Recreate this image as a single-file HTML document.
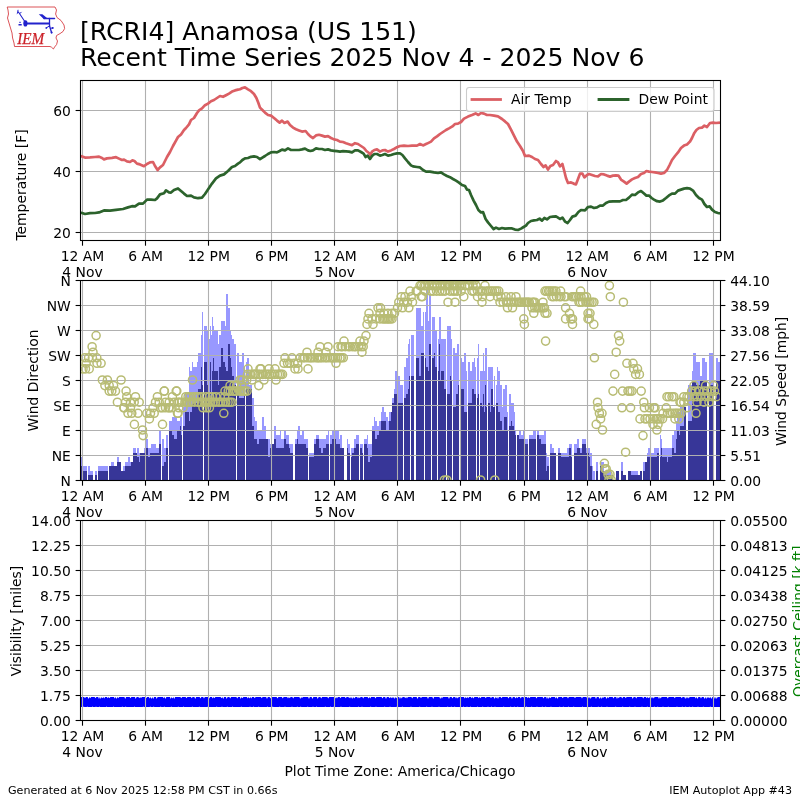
<!DOCTYPE html>
<html><head><meta charset="utf-8"><title>IEM Autoplot 43</title>
<style>html,body{margin:0;padding:0;background:#fff;}svg{display:block;}text{font-family:"DejaVu Sans", "Liberation Sans", sans-serif;fill:#000;}</style>
</head><body>
<svg width="800" height="800" viewBox="0 0 800 800">
<rect x="0" y="0" width="800" height="800" fill="#ffffff"/>
<g style="will-change:opacity">
<g id="logo">
<path d="M7.2,7 L55,7 L56.5,10 L55.6,14 L57,17.5 L61,20.5 L64,25 L64.6,28.5 L63,31.5 L60,33.6 L56.6,35.5 L56,38 L57.5,41 L56.6,44.5 L54.6,47 L53.4,49 L51.5,47.2 L50,46.5 L14.5,46.5 L14,43 L12.6,38 L12,33 L10.5,28 L9,23 L7.5,18 L8.5,14 L8,10 Z" fill="#ffffff" stroke="#d4343a" stroke-width="0.85" stroke-linejoin="round"/>
<g stroke="#2222cc" fill="none" stroke-linecap="round">
<path d="M26,23.5 H49" stroke-width="1.8"/>
<path d="M24.8,21.5 L18.6,12.2" stroke-width="1.1"/>
<path d="M18.6,12.2 L17.1,13.4 M17.6,12.6 L18,10.2 M19.8,13.6 L21.2,12.2" stroke-width="1.0"/>
<path d="M44,18.5 H54.6" stroke-width="1.3"/>
<path d="M49.5,18.5 V25.8 L51.6,32.8" stroke-width="1.3"/>
<path d="M46.4,27.8 L49.8,25.8 M50.4,28.4 L52.8,27.8" stroke-width="1.0"/>
</g>
<g fill="#2222cc" stroke="none">
<ellipse cx="25.4" cy="23.4" rx="2.1" ry="3.1"/>
<path d="M38.8,14.3 L42.4,14.3 L47,17.9 L44,19.2 Z"/>
<circle cx="46.3" cy="27.9" r="0.9"/><circle cx="52.7" cy="28" r="1"/><circle cx="51.6" cy="32.4" r="1"/>
<path d="M20,21.3 L20.9,23 L19.1,23 Z M18.5,24.1 L21.7,24.1 L21.7,25.5 L18.5,25.5 Z"/>
</g>
<text x="17.2" y="44.2" font-size="17.4" textLength="27" lengthAdjust="spacingAndGlyphs" stroke="#cc2229" stroke-width="0.25" style="font-family:'Liberation Serif','DejaVu Serif',serif;font-style:italic;fill:#cc2229">IEM</text>
</g>

<text x="80" y="40.3" font-size="25.13">[RCRI4] Anamosa (US 151)</text>
<text x="80" y="66.4" font-size="25.13">Recent Time Series 2025 Nov 4 - 2025 Nov 6</text>
<g stroke="#b0b0b0" stroke-width="1.1" fill="none"><line x1="82.50" y1="80.50" x2="82.50" y2="240.50"/><line x1="145.50" y1="80.50" x2="145.50" y2="240.50"/><line x1="208.50" y1="80.50" x2="208.50" y2="240.50"/><line x1="271.50" y1="80.50" x2="271.50" y2="240.50"/><line x1="334.50" y1="80.50" x2="334.50" y2="240.50"/><line x1="397.50" y1="80.50" x2="397.50" y2="240.50"/><line x1="460.50" y1="80.50" x2="460.50" y2="240.50"/><line x1="524.50" y1="80.50" x2="524.50" y2="240.50"/><line x1="587.50" y1="80.50" x2="587.50" y2="240.50"/><line x1="650.50" y1="80.50" x2="650.50" y2="240.50"/><line x1="713.50" y1="80.50" x2="713.50" y2="240.50"/><line x1="80.50" y1="110.50" x2="720.50" y2="110.50"/><line x1="80.50" y1="171.50" x2="720.50" y2="171.50"/><line x1="80.50" y1="232.50" x2="720.50" y2="232.50"/></g>
<defs><clipPath id="c1"><rect x="80.5" y="80.5" width="640" height="160"/></clipPath><clipPath id="c2"><rect x="80.5" y="280.5" width="640" height="200"/></clipPath><clipPath id="c3"><rect x="80.5" y="520.5" width="640" height="200"/></clipPath></defs><g clip-path="url(#c1)"><polyline points="80.0,156.0 82.0,156.4 85.0,157.6 90.0,157.4 95.0,157.0 99.0,156.6 102.0,158.0 104.0,159.4 107.0,158.4 112.0,157.8 116.0,157.2 119.0,158.6 122.0,160.0 124.0,159.6 127.0,161.4 130.0,162.0 132.4,160.4 134.4,161.0 137.0,163.6 140.0,164.4 144.0,166.2 147.0,164.0 150.0,162.4 153.0,162.0 155.0,166.0 157.6,170.0 160.0,167.4 163.0,165.0 165.0,161.0 167.0,157.0 170.0,152.0 173.0,146.0 176.0,140.6 178.0,137.0 181.0,134.4 184.0,130.0 186.0,128.0 189.0,124.4 191.0,120.0 194.0,118.0 197.0,113.0 199.0,110.4 202.0,108.4 205.0,105.2 208.0,103.6 211.0,101.2 214.0,100.0 217.0,98.0 220.0,96.0 223.0,96.8 226.0,95.2 229.0,93.6 232.0,91.6 235.0,90.4 238.0,89.6 240.0,89.2 242.4,88.0 245.0,87.4 248.0,89.4 251.0,91.2 254.0,94.0 256.4,98.0 258.4,103.0 260.0,107.6 262.4,110.0 265.0,112.6 268.0,115.0 271.0,115.6 274.0,118.0 277.0,120.6 279.6,122.6 282.0,120.6 284.4,123.0 287.6,121.6 290.0,125.0 293.0,127.6 296.0,129.2 299.0,130.4 302.0,131.6 305.6,131.0 308.0,134.0 310.4,136.4 313.0,138.0 316.0,135.4 319.0,134.8 322.0,135.6 325.0,136.6 328.0,136.2 331.0,138.0 334.0,139.4 337.0,140.0 340.0,141.6 343.0,142.0 346.0,143.2 349.0,144.2 352.0,145.2 355.0,143.2 358.0,144.0 361.0,146.0 364.0,148.0 366.4,151.0 369.0,153.0 370.4,155.0 372.0,151.6 374.4,150.0 377.0,149.4 380.0,151.6 382.4,150.4 385.0,150.0 388.0,151.6 391.0,150.4 394.0,149.0 397.0,147.2 400.0,146.0 404.0,145.6 408.0,146.0 412.0,145.6 417.0,145.6 420.0,144.0 423.0,145.4 427.0,143.6 431.0,141.6 434.0,138.4 437.0,136.4 440.0,134.0 443.0,132.0 446.0,130.0 449.0,128.4 452.4,126.4 455.0,124.0 458.0,123.6 461.0,122.0 464.0,118.6 468.0,116.6 472.0,115.0 475.6,113.4 478.4,115.0 481.0,113.0 484.0,113.6 487.0,115.0 490.0,115.0 494.0,115.6 498.0,116.4 502.0,119.0 505.0,121.4 508.0,124.0 511.0,129.6 514.0,135.6 517.0,141.6 520.0,146.0 523.0,151.0 525.0,156.0 529.0,155.6 532.0,157.0 535.0,159.0 538.0,160.0 541.0,164.0 543.6,167.0 545.6,165.4 548.0,169.6 550.4,166.0 553.0,165.0 556.0,161.0 558.0,162.4 560.0,166.4 562.4,164.0 564.0,170.0 566.0,178.0 568.0,183.0 571.0,182.4 573.6,183.6 576.0,184.4 578.4,178.0 580.0,173.6 582.4,173.6 584.4,177.4 587.0,175.0 589.0,174.0 592.0,175.0 595.0,176.0 598.0,176.4 601.0,174.0 604.0,174.4 607.0,175.6 610.0,176.6 613.0,175.6 616.0,175.4 618.4,175.6 621.0,179.6 624.0,181.6 626.6,183.6 629.0,181.6 632.0,179.4 635.0,178.0 638.0,177.0 641.0,174.0 644.0,173.0 646.4,171.0 649.0,171.6 652.0,172.0 655.0,172.4 658.0,173.0 661.0,173.6 664.0,173.0 667.0,170.0 669.6,165.0 672.0,160.0 675.0,156.0 678.0,152.4 681.0,148.0 684.0,145.6 687.0,144.4 690.0,141.6 692.0,138.0 694.0,133.6 696.4,130.0 699.0,128.0 702.0,127.6 704.4,125.6 707.0,127.0 710.0,123.0 713.0,122.6 716.0,123.0 720.0,122.6" fill="none" stroke="#db5f64" stroke-width="2.7" stroke-linejoin="round" stroke-linecap="butt"/><polyline points="80.0,212.6 82.0,213.0 85.0,214.0 90.0,213.2 95.0,213.0 99.0,212.4 104.0,210.4 110.0,210.6 116.0,209.8 123.0,209.0 128.0,207.4 132.0,206.2 135.0,206.4 139.0,203.6 143.0,203.6 147.0,199.6 151.0,199.6 155.0,200.0 157.0,198.4 160.0,194.4 164.0,193.2 166.0,190.4 169.0,192.4 171.0,192.6 174.0,190.0 178.0,188.4 181.0,191.0 184.0,193.6 187.0,196.0 191.0,195.6 194.0,197.4 198.0,198.2 202.0,197.6 205.0,194.0 208.0,189.6 212.0,183.6 216.0,178.4 220.0,175.6 224.0,174.4 228.0,171.0 232.0,167.0 235.0,166.0 238.0,163.6 240.0,162.4 242.4,160.0 245.0,158.4 248.0,158.0 251.0,156.8 254.0,156.4 257.0,157.0 260.0,159.2 262.4,157.6 265.0,156.0 268.0,154.0 271.0,152.4 274.0,152.0 277.0,152.4 279.6,151.0 282.0,149.6 285.0,150.4 288.0,148.4 291.0,150.0 295.0,150.0 299.0,150.0 302.0,149.4 305.0,148.6 308.0,150.4 310.4,151.0 313.0,150.4 316.0,148.4 319.0,149.0 322.0,149.0 325.0,150.0 328.0,149.4 331.0,150.4 334.0,150.8 337.0,151.2 340.0,151.6 343.0,151.2 346.0,151.4 349.0,151.6 352.0,152.4 355.0,150.4 358.0,150.4 361.0,152.0 363.6,153.6 365.6,157.0 367.6,155.6 370.0,159.0 372.0,156.0 374.4,154.0 377.0,154.0 380.0,155.6 382.4,155.0 385.0,154.0 388.0,155.6 391.0,155.0 394.0,154.0 397.0,153.4 400.0,153.4 402.4,155.0 405.0,158.4 408.0,162.0 411.0,165.4 413.0,166.4 417.0,167.0 420.0,167.4 423.0,170.0 426.0,171.6 430.0,171.6 434.0,172.4 438.0,173.0 441.0,172.4 444.0,174.4 447.0,176.0 450.0,177.2 453.0,179.0 456.0,180.6 459.0,182.6 462.0,185.0 465.0,186.0 467.0,189.6 469.0,190.0 471.0,195.0 473.6,200.6 476.0,205.0 478.4,210.0 481.0,212.4 483.0,212.0 485.6,219.0 488.0,222.4 491.0,226.0 493.6,229.0 496.0,227.6 499.0,229.0 502.0,228.0 505.0,228.6 509.0,228.4 512.0,228.4 515.0,229.6 518.0,230.0 521.0,228.6 523.6,227.0 526.0,225.6 528.0,223.0 531.0,221.0 534.0,220.4 537.0,220.0 539.6,218.6 542.0,220.6 544.4,218.0 547.0,219.4 550.0,217.0 553.0,216.6 556.0,216.4 558.0,217.6 560.0,219.0 562.4,217.6 565.0,221.6 567.6,223.0 570.0,220.0 572.4,216.6 575.6,215.6 578.4,212.0 581.0,210.0 585.0,210.4 588.0,207.0 591.0,206.6 594.0,208.0 597.0,207.4 600.0,205.6 603.0,205.6 606.0,203.0 609.0,201.6 613.0,201.4 617.0,201.4 620.0,201.4 623.0,200.0 626.0,200.0 629.0,197.6 632.0,194.6 635.0,195.0 638.0,192.4 641.0,191.0 644.0,193.6 646.4,195.6 649.0,195.6 651.6,198.0 654.0,199.6 657.0,201.2 660.0,201.6 663.0,200.4 666.0,198.0 669.0,195.4 672.0,193.6 675.0,193.6 678.0,190.6 681.0,189.6 684.0,188.6 687.0,188.2 690.0,188.6 693.0,190.6 696.0,195.0 699.0,198.0 702.0,199.6 704.4,204.0 707.0,207.0 709.6,206.4 712.0,209.6 715.0,212.0 718.0,213.0 720.0,213.4" fill="none" stroke="#2c632c" stroke-width="2.7" stroke-linejoin="round" stroke-linecap="butt"/></g>
<rect x="80.50" y="80.50" width="640.00" height="160.00" fill="none" stroke="#000" stroke-width="1.1"/>
<g stroke="#000" stroke-width="1.1"><line x1="82.50" y1="240.50" x2="82.50" y2="245.70"/><line x1="145.50" y1="240.50" x2="145.50" y2="245.70"/><line x1="208.50" y1="240.50" x2="208.50" y2="245.70"/><line x1="271.50" y1="240.50" x2="271.50" y2="245.70"/><line x1="334.50" y1="240.50" x2="334.50" y2="245.70"/><line x1="397.50" y1="240.50" x2="397.50" y2="245.70"/><line x1="460.50" y1="240.50" x2="460.50" y2="245.70"/><line x1="524.50" y1="240.50" x2="524.50" y2="245.70"/><line x1="587.50" y1="240.50" x2="587.50" y2="245.70"/><line x1="650.50" y1="240.50" x2="650.50" y2="245.70"/><line x1="713.50" y1="240.50" x2="713.50" y2="245.70"/></g><g font-size="13.89" text-anchor="middle"><text x="82.50" y="260.70">12 AM</text><text x="82.50" y="277.10">4 Nov</text><text x="145.60" y="260.70">6 AM</text><text x="208.70" y="260.70">12 PM</text><text x="271.80" y="260.70">6 PM</text><text x="334.90" y="260.70">12 AM</text><text x="334.90" y="277.10">5 Nov</text><text x="398.00" y="260.70">6 AM</text><text x="461.10" y="260.70">12 PM</text><text x="524.20" y="260.70">6 PM</text><text x="587.30" y="260.70">12 AM</text><text x="587.30" y="277.10">6 Nov</text><text x="650.40" y="260.70">6 AM</text><text x="713.50" y="260.70">12 PM</text></g>
<g stroke="#000" stroke-width="1.1"><line x1="75.60" y1="110.50" x2="80.50" y2="110.50"/><line x1="75.60" y1="171.50" x2="80.50" y2="171.50"/><line x1="75.60" y1="232.50" x2="80.50" y2="232.50"/></g><g font-size="13.89" text-anchor="end"><text x="70.80" y="115.80">60</text><text x="70.80" y="176.80">40</text><text x="70.80" y="237.80">20</text></g>
<text font-size="13.89" text-anchor="middle" fill="#000" transform="translate(25.60,185.00) rotate(-90)" style="fill:#000">Temperature [F]</text>
<rect x="466.5" y="87.5" width="247.5" height="24" rx="2.8" ry="2.8" fill="#ffffff" fill-opacity="0.8" stroke="#cccccc" stroke-width="1.1"/><line x1="472" y1="99.5" x2="500.5" y2="99.5" stroke="#db5f64" stroke-width="2.8" stroke-linecap="square"/><text x="511" y="104.2" font-size="13.89">Air Temp</text><line x1="599" y1="99.5" x2="628" y2="99.5" stroke="#2c632c" stroke-width="2.8" stroke-linecap="square"/><text x="638.5" y="104.2" font-size="13.89">Dew Point</text>
<g clip-path="url(#c2)"><path d="M80,480.5V457H82V466H87V480.5ZM88,480.5V466H90V471H93V480.5ZM95,480.5V471H97V480.5ZM98,480.5V466H108V480.5ZM109,480.5V466H111V462H114V466H117V457H119V462H121V471H123V466H125V462H128V457H130V462H131V462H133V448H136V453H137V448H139V453H140V453H144V448H145V439H148V448H150V448H151V444H156V448H158V448H159V430H161V480.5ZM162,480.5V439H164V448H166V435H168V480.5ZM169,480.5V421H172V417H174V417H177V421H180V417H181V417H183V407H185V394H189V367H190V371H192V362H193V367H197V362H198V353H201V335H202V312H203V330H204V326H207V330H208V339H210V326H211V335H212V317H213V326H214V330H218V344H219V335H221V321H223V321H225V326H226V294H228V308H230V330H231V335H232V339H234V344H236V480.5ZM237,480.5V353H239V362H240V362H242V353H244V367H245V480.5ZM246,480.5V362H247V358H249V385H252V398H254V417H255V421H257V430H259V430H262V417H264V426H266V439H268V439H270V444H272V444H274V426H276V435H280V430H281V439H284V430H286V435H289V444H290V444H293V480.5ZM295,480.5V439H297V430H298V426H300V435H302V430H304V439H306V439H308V480.5ZM309,480.5V453H314V439H316V435H319V439H321V439H323V439H326V435H328V430H329V480.5ZM330,480.5V435H332V430H334V430H336V430H339V439H340V435H342V448H344V439H345V480.5ZM347,480.5V439H348V444H350V480.5ZM351,480.5V448H352V448H354V439H356V435H359V480.5ZM360,480.5V444H362V444H363V439H367V435H368V444H370V444H372V426H374V417H375V421H377V426H379V421H380V421H381V412H382V407H384V412H386V417H388V421H389V412H391V412H392V398H394V389H395V371H397V376H398V376H400V385H403V480.5ZM404,480.5V367H406V358H408V344H409V339H410V480.5ZM411,480.5V335H414V480.5ZM416,480.5V308H419V308H421V326H423V312H424V480.5ZM425,480.5V312H426V290H428V321H429V294H431V480.5ZM432,480.5V317H434V317H435V330H437V339H439V317H440V317H441V339H444V339H446V480.5ZM447,480.5V326H450V326H451V339H452V480.5ZM453,480.5V348H455V353H456V353H457V344H458V344H459V358H460V358H462V362H464V353H466V371H467V480.5ZM468,480.5V362H470V371H472V362H474V358H475V367H476V367H477V358H478V344H479V358H480V371H482V371H483V353H484V371H485V348H486V348H487V480.5ZM488,480.5V367H490V367H491V367H493V407H494V376H495V480.5ZM496,480.5V385H497V367H498V371H500V385H502V407H503V389H504V389H505V385H507V412H509V394H511V403H512V403H514V412H515V430H516V480.5ZM517,480.5V435H519V430H521V435H523V430H525V439H528V480.5ZM529,480.5V435H533V430H536V480.5ZM537,480.5V430H539V435H541V435H544V430H546V453H547V457H549V480.5ZM550,480.5V444H552V448H554V453H556V480.5ZM558,480.5V448H560V453H561V453H567V448H569V444H571V444H572V480.5ZM574,480.5V444H577V439H579V448H580V448H582V439H586V448H588V448H589V448H590V453H592V466H593V471H595V480.5ZM596,480.5V462H598V480.5ZM600,480.5V462H602V462H604V471H606V471H611V475H613V480.5ZM616,480.5V471H619V480.5ZM621,480.5V462H623V475H626V480.5ZM628,480.5V471H631V471H632V471H638V475H640V471H642V480.5ZM643,480.5V462H645V462H647V453H648V448H649V448H651V453H654V448H655V448H657V448H659V480.5ZM660,480.5V435H661V439H662V448H667V448H668V448H672V435H674V430H676V421H677V412H679V412H680V407H684V407H686V480.5ZM688,480.5V385H692V371H693V353H696V362H700V376H702V358H705V362H707V480.5ZM709,480.5V353H713V376H714V480.5ZM716,480.5V358H718V362H720V480.5Z" fill="#9898ff" stroke="none"/><path d="M80,480.5V466H82V471H87V480.5ZM88,480.5V475H90V475H93V480.5ZM95,480.5V475H97V480.5ZM98,480.5V471H108V480.5ZM109,480.5V466H111V466H114V466H117V462H119V462H121V471H123V471H125V466H128V466H130V466H131V462H133V453H136V453H137V457H139V462H140V453H144V453H145V448H148V457H150V453H151V453H156V453H158V453H159V444H161V480.5ZM162,480.5V466H164V462H166V448H168V480.5ZM169,480.5V430H172V435H174V439H177V430H180V426H181V435H183V426H185V412H189V421H190V412H192V403H193V403H197V394H198V389H201V367H202V385H203V385H204V362H207V385H208V398H210V362H211V398H212V371H213V358H214V371H218V385H219V367H221V348H223V362H225V367H226V371H228V344H230V358H231V367H232V376H234V385H236V480.5ZM237,480.5V394H239V398H240V398H242V398H244V394H245V480.5ZM246,480.5V389H247V389H249V389H252V426H254V439H255V439H257V444H259V439H262V439H264V439H266V439H268V457H270V448H272V444H274V439H276V448H280V448H281V448H284V439H286V444H289V448H290V453H293V480.5ZM295,480.5V444H297V439H298V444H300V444H302V444H304V444H306V448H308V480.5ZM309,480.5V457H314V444H316V439H319V448H321V453H323V448H326V444H328V444H329V480.5ZM330,480.5V444H332V439H334V439H336V444H339V444H340V448H342V448H344V480.5ZM347,480.5V448H348V453H350V480.5ZM351,480.5V457H352V453H354V448H356V444H359V480.5ZM360,480.5V448H362V453H363V444H367V448H368V462H370V457H372V430H374V430H375V439H377V435H379V430H380V430H381V421H382V421H384V421H386V430H388V430H389V421H391V412H392V403H394V394H395V394H397V403H398V403H400V403H403V480.5ZM404,480.5V398H406V394H408V389H409V376H410V480.5ZM411,480.5V376H414V480.5ZM416,480.5V358H419V376H421V353H423V353H424V480.5ZM425,480.5V358H426V367H428V371H429V344H431V480.5ZM432,480.5V358H434V353H435V367H437V371H439V344H440V380H441V371H444V389H446V480.5ZM447,480.5V394H450V376H451V380H452V480.5ZM453,480.5V407H455V407H456V394H457V394H458V385H459V385H460V389H462V389H464V412H466V412H467V480.5ZM468,480.5V403H470V403H472V389H474V394H475V394H476V398H477V398H478V394H479V394H480V403H482V407H483V394H484V412H485V385H486V407H487V480.5ZM488,480.5V403H490V412H491V389H493V407H494V407H495V480.5ZM496,480.5V403H497V403H498V412H500V421H502V430H503V430H504V417H505V417H507V430H509V426H511V421H512V426H514V430H515V435H516V480.5ZM517,480.5V435H519V439H521V439H523V439H525V444H528V480.5ZM529,480.5V439H533V439H536V480.5ZM537,480.5V435H539V439H541V444H544V444H546V471H547V466H549V480.5ZM550,480.5V453H552V453H554V453H556V480.5ZM558,480.5V453H560V453H561V457H567V457H569V448H571V457H572V480.5ZM574,480.5V453H577V448H579V448H580V453H582V444H586V453H588V453H589V457H590V466H592V480.5ZM596,480.5V471H598V480.5ZM600,480.5V466H602V471H604V475H606V475H611V475H613V480.5ZM616,480.5V471H619V480.5ZM621,480.5V471H623V475H626V480.5ZM628,480.5V471H631V475H632V475H638V475H640V471H642V480.5ZM643,480.5V471H645V462H647V457H648V457H649V457H651V457H654V457H655V457H657V453H659V480.5ZM660,480.5V457H661V448H662V457H667V462H668V457H672V448H674V453H676V439H677V430H679V435H680V426H684V407H686V480.5ZM688,480.5V421H692V380H693V380H696V385H700V380H702V380H705V380H707V480.5ZM709,480.5V385H713V385H714V480.5ZM716,480.5V380H718V380H720V480.5Z" fill="#373698" stroke="none"/><rect x="182" y="280.5" width="1" height="200" fill="#ffffff"/><rect x="203" y="280.5" width="1" height="200" fill="#ffffff"/><rect x="344" y="280.5" width="1" height="200" fill="#ffffff"/><rect x="363" y="280.5" width="1" height="200" fill="#ffffff"/><rect x="437" y="280.5" width="1" height="200" fill="#ffffff"/><rect x="459" y="280.5" width="1" height="200" fill="#ffffff"/><rect x="476" y="280.5" width="1" height="200" fill="#ffffff"/><rect x="479" y="280.5" width="1" height="200" fill="#ffffff"/><rect x="508" y="280.5" width="1" height="200" fill="#ffffff"/></g>
<g stroke="#b0b0b0" stroke-width="1.1" fill="none"><line x1="82.50" y1="280.50" x2="82.50" y2="480.50"/><line x1="145.50" y1="280.50" x2="145.50" y2="480.50"/><line x1="208.50" y1="280.50" x2="208.50" y2="480.50"/><line x1="271.50" y1="280.50" x2="271.50" y2="480.50"/><line x1="334.50" y1="280.50" x2="334.50" y2="480.50"/><line x1="397.50" y1="280.50" x2="397.50" y2="480.50"/><line x1="460.50" y1="280.50" x2="460.50" y2="480.50"/><line x1="524.50" y1="280.50" x2="524.50" y2="480.50"/><line x1="587.50" y1="280.50" x2="587.50" y2="480.50"/><line x1="650.50" y1="280.50" x2="650.50" y2="480.50"/><line x1="713.50" y1="280.50" x2="713.50" y2="480.50"/><line x1="80.50" y1="280.50" x2="720.50" y2="280.50"/><line x1="80.50" y1="305.50" x2="720.50" y2="305.50"/><line x1="80.50" y1="330.50" x2="720.50" y2="330.50"/><line x1="80.50" y1="355.50" x2="720.50" y2="355.50"/><line x1="80.50" y1="380.50" x2="720.50" y2="380.50"/><line x1="80.50" y1="405.50" x2="720.50" y2="405.50"/><line x1="80.50" y1="430.50" x2="720.50" y2="430.50"/><line x1="80.50" y1="455.50" x2="720.50" y2="455.50"/><line x1="80.50" y1="480.50" x2="720.50" y2="480.50"/></g>
<g clip-path="url(#c2)" fill="none" stroke="#b8bc74" stroke-width="1.5"><circle cx="96.1" cy="335.6" r="4.05"/><circle cx="92.1" cy="346.7" r="4.05"/><circle cx="93.0" cy="352.2" r="4.05"/><circle cx="84.9" cy="357.8" r="4.05"/><circle cx="88.6" cy="357.8" r="4.05"/><circle cx="92.4" cy="357.8" r="4.05"/><circle cx="96.8" cy="357.8" r="4.05"/><circle cx="86.1" cy="363.3" r="4.05"/><circle cx="97.0" cy="363.3" r="4.05"/><circle cx="101.1" cy="363.3" r="4.05"/><circle cx="83.0" cy="368.9" r="4.05"/><circle cx="85.5" cy="368.9" r="4.05"/><circle cx="89.2" cy="368.9" r="4.05"/><circle cx="102.4" cy="380.0" r="4.05"/><circle cx="107.4" cy="380.0" r="4.05"/><circle cx="121.1" cy="380.0" r="4.05"/><circle cx="104.9" cy="385.6" r="4.05"/><circle cx="109.2" cy="385.6" r="4.05"/><circle cx="113.6" cy="385.6" r="4.05"/><circle cx="109.2" cy="391.1" r="4.05"/><circle cx="111.8" cy="391.1" r="4.05"/><circle cx="115.5" cy="391.1" r="4.05"/><circle cx="126.1" cy="391.1" r="4.05"/><circle cx="126.8" cy="396.7" r="4.05"/><circle cx="135.5" cy="396.7" r="4.05"/><circle cx="157.4" cy="396.7" r="4.05"/><circle cx="164.2" cy="391.1" r="4.05"/><circle cx="176.8" cy="391.1" r="4.05"/><circle cx="172.4" cy="396.7" r="4.05"/><circle cx="117.4" cy="402.2" r="4.05"/><circle cx="125.5" cy="402.2" r="4.05"/><circle cx="130.5" cy="402.2" r="4.05"/><circle cx="134.2" cy="402.2" r="4.05"/><circle cx="139.2" cy="402.2" r="4.05"/><circle cx="155.5" cy="402.2" r="4.05"/><circle cx="159.2" cy="402.2" r="4.05"/><circle cx="165.5" cy="402.2" r="4.05"/><circle cx="169.2" cy="402.2" r="4.05"/><circle cx="174.2" cy="402.2" r="4.05"/><circle cx="124.2" cy="407.8" r="4.05"/><circle cx="130.5" cy="407.8" r="4.05"/><circle cx="153.0" cy="407.8" r="4.05"/><circle cx="160.5" cy="407.8" r="4.05"/><circle cx="165.5" cy="407.8" r="4.05"/><circle cx="169.2" cy="407.8" r="4.05"/><circle cx="128.0" cy="413.3" r="4.05"/><circle cx="131.8" cy="413.3" r="4.05"/><circle cx="138.0" cy="413.3" r="4.05"/><circle cx="146.8" cy="413.3" r="4.05"/><circle cx="150.5" cy="413.3" r="4.05"/><circle cx="154.2" cy="413.3" r="4.05"/><circle cx="178.0" cy="413.3" r="4.05"/><circle cx="134.4" cy="424.4" r="4.05"/><circle cx="162.5" cy="424.4" r="4.05"/><circle cx="142.5" cy="430.0" r="4.05"/><circle cx="143.1" cy="435.6" r="4.05"/><circle cx="149.4" cy="418.9" r="4.05"/><circle cx="123.8" cy="407.8" r="4.05"/><circle cx="164.4" cy="391.1" r="4.05"/><circle cx="176.2" cy="391.1" r="4.05"/><circle cx="162.5" cy="407.8" r="4.05"/><circle cx="168.8" cy="407.8" r="4.05"/><circle cx="172.0" cy="407.8" r="4.05"/><circle cx="178.8" cy="407.8" r="4.05"/><circle cx="183.0" cy="407.8" r="4.05"/><circle cx="177.5" cy="413.3" r="4.05"/><circle cx="223.8" cy="413.3" r="4.05"/><circle cx="192.5" cy="380.0" r="4.05"/><circle cx="203.0" cy="407.8" r="4.05"/><circle cx="206.5" cy="407.8" r="4.05"/><circle cx="209.4" cy="407.8" r="4.05"/><circle cx="178.0" cy="402.2" r="4.05"/><circle cx="179.4" cy="402.2" r="4.05"/><circle cx="181.6" cy="402.2" r="4.05"/><circle cx="184.9" cy="402.2" r="4.05"/><circle cx="186.7" cy="402.2" r="4.05"/><circle cx="188.9" cy="402.2" r="4.05"/><circle cx="191.1" cy="402.2" r="4.05"/><circle cx="194.4" cy="402.2" r="4.05"/><circle cx="197.7" cy="402.2" r="4.05"/><circle cx="199.1" cy="402.2" r="4.05"/><circle cx="201.3" cy="402.2" r="4.05"/><circle cx="204.1" cy="402.2" r="4.05"/><circle cx="206.3" cy="402.2" r="4.05"/><circle cx="209.0" cy="402.2" r="4.05"/><circle cx="210.4" cy="402.2" r="4.05"/><circle cx="213.2" cy="402.2" r="4.05"/><circle cx="215.4" cy="402.2" r="4.05"/><circle cx="218.2" cy="402.2" r="4.05"/><circle cx="220.3" cy="402.2" r="4.05"/><circle cx="223.1" cy="402.2" r="4.05"/><circle cx="225.8" cy="402.2" r="4.05"/><circle cx="228.1" cy="402.2" r="4.05"/><circle cx="230.2" cy="402.2" r="4.05"/><circle cx="232.0" cy="402.2" r="4.05"/><circle cx="185.8" cy="396.7" r="4.05"/><circle cx="188.1" cy="396.7" r="4.05"/><circle cx="190.3" cy="396.7" r="4.05"/><circle cx="193.8" cy="396.7" r="4.05"/><circle cx="196.7" cy="396.7" r="4.05"/><circle cx="198.9" cy="396.7" r="4.05"/><circle cx="201.7" cy="396.7" r="4.05"/><circle cx="206.1" cy="396.7" r="4.05"/><circle cx="209.6" cy="396.7" r="4.05"/><circle cx="212.4" cy="396.7" r="4.05"/><circle cx="215.9" cy="396.7" r="4.05"/><circle cx="220.3" cy="396.7" r="4.05"/><circle cx="224.7" cy="396.7" r="4.05"/><circle cx="225.0" cy="391.1" r="4.05"/><circle cx="228.2" cy="391.1" r="4.05"/><circle cx="230.3" cy="391.1" r="4.05"/><circle cx="232.9" cy="391.1" r="4.05"/><circle cx="234.6" cy="391.1" r="4.05"/><circle cx="236.3" cy="391.1" r="4.05"/><circle cx="239.6" cy="391.1" r="4.05"/><circle cx="241.2" cy="391.1" r="4.05"/><circle cx="243.3" cy="391.1" r="4.05"/><circle cx="245.0" cy="391.1" r="4.05"/><circle cx="247.1" cy="391.1" r="4.05"/><circle cx="230.0" cy="385.6" r="4.05"/><circle cx="234.0" cy="385.6" r="4.05"/><circle cx="236.6" cy="385.6" r="4.05"/><circle cx="241.6" cy="385.6" r="4.05"/><circle cx="240.0" cy="380.0" r="4.05"/><circle cx="242.3" cy="380.0" r="4.05"/><circle cx="246.7" cy="380.0" r="4.05"/><circle cx="247.5" cy="374.4" r="4.05"/><circle cx="250.3" cy="374.4" r="4.05"/><circle cx="253.2" cy="374.4" r="4.05"/><circle cx="254.4" cy="374.4" r="4.05"/><circle cx="255.7" cy="374.4" r="4.05"/><circle cx="258.1" cy="374.4" r="4.05"/><circle cx="259.9" cy="374.4" r="4.05"/><circle cx="262.8" cy="374.4" r="4.05"/><circle cx="265.6" cy="374.4" r="4.05"/><circle cx="267.6" cy="374.4" r="4.05"/><circle cx="269.4" cy="374.4" r="4.05"/><circle cx="271.8" cy="374.4" r="4.05"/><circle cx="274.7" cy="374.4" r="4.05"/><circle cx="277.5" cy="374.4" r="4.05"/><circle cx="279.4" cy="374.4" r="4.05"/><circle cx="280.9" cy="374.4" r="4.05"/><circle cx="282.5" cy="374.4" r="4.05"/><circle cx="252.0" cy="380.0" r="4.05"/><circle cx="264.0" cy="380.0" r="4.05"/><circle cx="276.0" cy="380.0" r="4.05"/><circle cx="248.0" cy="368.9" r="4.05"/><circle cx="260.0" cy="368.9" r="4.05"/><circle cx="261.0" cy="368.9" r="4.05"/><circle cx="269.0" cy="368.9" r="4.05"/><circle cx="275.0" cy="368.9" r="4.05"/><circle cx="258.8" cy="385.6" r="4.05"/><circle cx="284.0" cy="363.3" r="4.05"/><circle cx="287.5" cy="363.3" r="4.05"/><circle cx="289.8" cy="363.3" r="4.05"/><circle cx="294.1" cy="363.3" r="4.05"/><circle cx="297.6" cy="363.3" r="4.05"/><circle cx="285.0" cy="357.8" r="4.05"/><circle cx="292.0" cy="357.8" r="4.05"/><circle cx="295.0" cy="368.9" r="4.05"/><circle cx="298.0" cy="368.9" r="4.05"/><circle cx="308.0" cy="368.9" r="4.05"/><circle cx="300.0" cy="357.8" r="4.05"/><circle cx="303.0" cy="357.8" r="4.05"/><circle cx="304.6" cy="357.8" r="4.05"/><circle cx="307.6" cy="357.8" r="4.05"/><circle cx="310.1" cy="357.8" r="4.05"/><circle cx="311.4" cy="357.8" r="4.05"/><circle cx="313.9" cy="357.8" r="4.05"/><circle cx="316.9" cy="357.8" r="4.05"/><circle cx="318.2" cy="357.8" r="4.05"/><circle cx="320.2" cy="357.8" r="4.05"/><circle cx="322.2" cy="357.8" r="4.05"/><circle cx="325.2" cy="357.8" r="4.05"/><circle cx="327.2" cy="357.8" r="4.05"/><circle cx="330.2" cy="357.8" r="4.05"/><circle cx="332.2" cy="357.8" r="4.05"/><circle cx="333.5" cy="357.8" r="4.05"/><circle cx="335.5" cy="357.8" r="4.05"/><circle cx="337.5" cy="357.8" r="4.05"/><circle cx="340.0" cy="357.8" r="4.05"/><circle cx="341.3" cy="357.8" r="4.05"/><circle cx="343.3" cy="357.8" r="4.05"/><circle cx="307.0" cy="352.2" r="4.05"/><circle cx="318.0" cy="352.2" r="4.05"/><circle cx="326.0" cy="352.2" r="4.05"/><circle cx="320.0" cy="346.7" r="4.05"/><circle cx="328.0" cy="346.7" r="4.05"/><circle cx="336.0" cy="363.3" r="4.05"/><circle cx="338.0" cy="346.7" r="4.05"/><circle cx="341.0" cy="346.7" r="4.05"/><circle cx="342.3" cy="346.7" r="4.05"/><circle cx="345.3" cy="346.7" r="4.05"/><circle cx="348.3" cy="346.7" r="4.05"/><circle cx="349.9" cy="346.7" r="4.05"/><circle cx="352.4" cy="346.7" r="4.05"/><circle cx="354.4" cy="346.7" r="4.05"/><circle cx="355.7" cy="346.7" r="4.05"/><circle cx="358.7" cy="346.7" r="4.05"/><circle cx="361.2" cy="346.7" r="4.05"/><circle cx="363.2" cy="346.7" r="4.05"/><circle cx="344.0" cy="341.1" r="4.05"/><circle cx="360.0" cy="341.1" r="4.05"/><circle cx="364.0" cy="341.1" r="4.05"/><circle cx="362.0" cy="352.2" r="4.05"/><circle cx="366.0" cy="335.6" r="4.05"/><circle cx="367.0" cy="324.4" r="4.05"/><circle cx="373.0" cy="324.4" r="4.05"/><circle cx="368.0" cy="318.9" r="4.05"/><circle cx="372.0" cy="318.9" r="4.05"/><circle cx="376.0" cy="318.9" r="4.05"/><circle cx="369.0" cy="313.3" r="4.05"/><circle cx="380.0" cy="318.9" r="4.05"/><circle cx="382.8" cy="318.9" r="4.05"/><circle cx="384.2" cy="318.9" r="4.05"/><circle cx="385.9" cy="318.9" r="4.05"/><circle cx="387.4" cy="318.9" r="4.05"/><circle cx="388.8" cy="318.9" r="4.05"/><circle cx="390.2" cy="318.9" r="4.05"/><circle cx="392.0" cy="318.9" r="4.05"/><circle cx="380.0" cy="313.3" r="4.05"/><circle cx="384.0" cy="313.3" r="4.05"/><circle cx="388.0" cy="313.3" r="4.05"/><circle cx="392.0" cy="313.3" r="4.05"/><circle cx="394.5" cy="313.3" r="4.05"/><circle cx="378.0" cy="307.8" r="4.05"/><circle cx="380.5" cy="307.8" r="4.05"/><circle cx="398.8" cy="302.2" r="4.05"/><circle cx="403.8" cy="302.2" r="4.05"/><circle cx="407.5" cy="302.2" r="4.05"/><circle cx="412.5" cy="302.2" r="4.05"/><circle cx="401.2" cy="296.7" r="4.05"/><circle cx="405.0" cy="296.7" r="4.05"/><circle cx="411.2" cy="296.7" r="4.05"/><circle cx="421.2" cy="296.7" r="4.05"/><circle cx="422.5" cy="296.7" r="4.05"/><circle cx="397.5" cy="307.8" r="4.05"/><circle cx="402.5" cy="307.8" r="4.05"/><circle cx="408.8" cy="307.8" r="4.05"/><circle cx="410.0" cy="291.1" r="4.05"/><circle cx="416.2" cy="291.1" r="4.05"/><circle cx="417.5" cy="291.1" r="4.05"/><circle cx="425.0" cy="291.1" r="4.05"/><circle cx="420.0" cy="285.6" r="4.05"/><circle cx="421.6" cy="285.6" r="4.05"/><circle cx="424.0" cy="285.6" r="4.05"/><circle cx="425.5" cy="285.6" r="4.05"/><circle cx="429.1" cy="285.6" r="4.05"/><circle cx="432.1" cy="285.6" r="4.05"/><circle cx="434.5" cy="285.6" r="4.05"/><circle cx="436.9" cy="285.6" r="4.05"/><circle cx="440.5" cy="285.6" r="4.05"/><circle cx="442.9" cy="285.6" r="4.05"/><circle cx="445.3" cy="285.6" r="4.05"/><circle cx="447.7" cy="285.6" r="4.05"/><circle cx="449.3" cy="285.6" r="4.05"/><circle cx="452.9" cy="285.6" r="4.05"/><circle cx="454.4" cy="285.6" r="4.05"/><circle cx="456.0" cy="285.6" r="4.05"/><circle cx="459.6" cy="285.6" r="4.05"/><circle cx="461.5" cy="285.6" r="4.05"/><circle cx="465.1" cy="285.6" r="4.05"/><circle cx="467.5" cy="285.6" r="4.05"/><circle cx="469.4" cy="285.6" r="4.05"/><circle cx="473.0" cy="285.6" r="4.05"/><circle cx="476.0" cy="285.6" r="4.05"/><circle cx="485.0" cy="285.6" r="4.05"/><circle cx="430.7" cy="291.1" r="4.05"/><circle cx="433.3" cy="291.1" r="4.05"/><circle cx="436.6" cy="291.1" r="4.05"/><circle cx="439.8" cy="291.1" r="4.05"/><circle cx="442.4" cy="291.1" r="4.05"/><circle cx="445.0" cy="291.1" r="4.05"/><circle cx="450.0" cy="291.1" r="4.05"/><circle cx="453.0" cy="291.1" r="4.05"/><circle cx="454.9" cy="291.1" r="4.05"/><circle cx="457.4" cy="291.1" r="4.05"/><circle cx="461.1" cy="291.1" r="4.05"/><circle cx="472.0" cy="291.1" r="4.05"/><circle cx="473.9" cy="291.1" r="4.05"/><circle cx="477.5" cy="291.1" r="4.05"/><circle cx="481.1" cy="291.1" r="4.05"/><circle cx="482.7" cy="291.1" r="4.05"/><circle cx="486.3" cy="291.1" r="4.05"/><circle cx="488.2" cy="291.1" r="4.05"/><circle cx="490.6" cy="291.1" r="4.05"/><circle cx="492.5" cy="291.1" r="4.05"/><circle cx="494.9" cy="291.1" r="4.05"/><circle cx="496.8" cy="291.1" r="4.05"/><circle cx="498.8" cy="291.1" r="4.05"/><circle cx="426.0" cy="280.0" r="4.05"/><circle cx="431.0" cy="280.0" r="4.05"/><circle cx="435.0" cy="280.0" r="4.05"/><circle cx="438.2" cy="280.0" r="4.05"/><circle cx="443.2" cy="280.0" r="4.05"/><circle cx="449.5" cy="280.0" r="4.05"/><circle cx="452.8" cy="280.0" r="4.05"/><circle cx="456.0" cy="280.0" r="4.05"/><circle cx="459.2" cy="280.0" r="4.05"/><circle cx="462.5" cy="280.0" r="4.05"/><circle cx="468.8" cy="280.0" r="4.05"/><circle cx="475.0" cy="280.0" r="4.05"/><circle cx="463.8" cy="296.7" r="4.05"/><circle cx="477.5" cy="296.7" r="4.05"/><circle cx="482.5" cy="296.7" r="4.05"/><circle cx="490.0" cy="296.7" r="4.05"/><circle cx="497.5" cy="296.7" r="4.05"/><circle cx="448.0" cy="302.2" r="4.05"/><circle cx="455.0" cy="302.2" r="4.05"/><circle cx="482.0" cy="302.2" r="4.05"/><circle cx="444.4" cy="480.0" r="4.05"/><circle cx="446.9" cy="480.0" r="4.05"/><circle cx="480.6" cy="480.0" r="4.05"/><circle cx="494.8" cy="480.0" r="4.05"/><circle cx="500.0" cy="302.2" r="4.05"/><circle cx="503.2" cy="302.2" r="4.05"/><circle cx="506.5" cy="302.2" r="4.05"/><circle cx="508.2" cy="302.2" r="4.05"/><circle cx="511.4" cy="302.2" r="4.05"/><circle cx="514.0" cy="302.2" r="4.05"/><circle cx="516.6" cy="302.2" r="4.05"/><circle cx="518.7" cy="302.2" r="4.05"/><circle cx="501.0" cy="296.7" r="4.05"/><circle cx="506.0" cy="296.7" r="4.05"/><circle cx="511.0" cy="296.7" r="4.05"/><circle cx="516.0" cy="296.7" r="4.05"/><circle cx="507.5" cy="307.8" r="4.05"/><circle cx="512.5" cy="307.8" r="4.05"/><circle cx="520.0" cy="302.2" r="4.05"/><circle cx="521.9" cy="302.2" r="4.05"/><circle cx="523.8" cy="302.2" r="4.05"/><circle cx="525.3" cy="302.2" r="4.05"/><circle cx="526.8" cy="302.2" r="4.05"/><circle cx="528.1" cy="302.2" r="4.05"/><circle cx="529.3" cy="302.2" r="4.05"/><circle cx="532.2" cy="302.2" r="4.05"/><circle cx="533.7" cy="302.2" r="4.05"/><circle cx="534.9" cy="302.2" r="4.05"/><circle cx="532.0" cy="307.8" r="4.05"/><circle cx="534.8" cy="307.8" r="4.05"/><circle cx="537.0" cy="307.8" r="4.05"/><circle cx="538.7" cy="307.8" r="4.05"/><circle cx="540.9" cy="307.8" r="4.05"/><circle cx="543.1" cy="307.8" r="4.05"/><circle cx="544.5" cy="307.8" r="4.05"/><circle cx="533.8" cy="313.3" r="4.05"/><circle cx="545.0" cy="313.3" r="4.05"/><circle cx="547.0" cy="313.3" r="4.05"/><circle cx="543.0" cy="302.2" r="4.05"/><circle cx="545.6" cy="341.1" r="4.05"/><circle cx="523.8" cy="318.9" r="4.05"/><circle cx="524.4" cy="324.4" r="4.05"/><circle cx="545.0" cy="291.1" r="4.05"/><circle cx="546.6" cy="291.1" r="4.05"/><circle cx="548.6" cy="291.1" r="4.05"/><circle cx="549.9" cy="291.1" r="4.05"/><circle cx="551.9" cy="291.1" r="4.05"/><circle cx="553.9" cy="291.1" r="4.05"/><circle cx="555.9" cy="291.1" r="4.05"/><circle cx="560.6" cy="291.1" r="4.05"/><circle cx="580.6" cy="291.1" r="4.05"/><circle cx="552.0" cy="296.7" r="4.05"/><circle cx="553.8" cy="296.7" r="4.05"/><circle cx="556.5" cy="296.7" r="4.05"/><circle cx="559.3" cy="296.7" r="4.05"/><circle cx="561.0" cy="296.7" r="4.05"/><circle cx="564.3" cy="296.7" r="4.05"/><circle cx="566.1" cy="296.7" r="4.05"/><circle cx="565.6" cy="307.8" r="4.05"/><circle cx="569.5" cy="313.3" r="4.05"/><circle cx="565.6" cy="318.9" r="4.05"/><circle cx="571.0" cy="318.9" r="4.05"/><circle cx="572.5" cy="318.9" r="4.05"/><circle cx="572.5" cy="324.4" r="4.05"/><circle cx="572.0" cy="296.7" r="4.05"/><circle cx="573.8" cy="296.7" r="4.05"/><circle cx="575.2" cy="296.7" r="4.05"/><circle cx="576.6" cy="296.7" r="4.05"/><circle cx="578.8" cy="296.7" r="4.05"/><circle cx="581.0" cy="296.7" r="4.05"/><circle cx="584.3" cy="296.7" r="4.05"/><circle cx="586.5" cy="296.7" r="4.05"/><circle cx="579.0" cy="302.2" r="4.05"/><circle cx="580.4" cy="302.2" r="4.05"/><circle cx="582.6" cy="302.2" r="4.05"/><circle cx="585.9" cy="302.2" r="4.05"/><circle cx="588.1" cy="302.2" r="4.05"/><circle cx="589.9" cy="302.2" r="4.05"/><circle cx="592.1" cy="302.2" r="4.05"/><circle cx="593.9" cy="302.2" r="4.05"/><circle cx="588.0" cy="313.3" r="4.05"/><circle cx="590.0" cy="313.3" r="4.05"/><circle cx="588.0" cy="318.9" r="4.05"/><circle cx="589.4" cy="318.9" r="4.05"/><circle cx="593.8" cy="324.4" r="4.05"/><circle cx="594.4" cy="357.8" r="4.05"/><circle cx="609.4" cy="285.6" r="4.05"/><circle cx="610.3" cy="296.7" r="4.05"/><circle cx="618.5" cy="335.6" r="4.05"/><circle cx="619.7" cy="341.1" r="4.05"/><circle cx="616.2" cy="352.2" r="4.05"/><circle cx="614.7" cy="374.4" r="4.05"/><circle cx="623.4" cy="302.2" r="4.05"/><circle cx="626.9" cy="363.3" r="4.05"/><circle cx="633.0" cy="363.3" r="4.05"/><circle cx="633.8" cy="368.9" r="4.05"/><circle cx="637.5" cy="368.9" r="4.05"/><circle cx="635.6" cy="374.4" r="4.05"/><circle cx="639.4" cy="374.4" r="4.05"/><circle cx="613.0" cy="391.1" r="4.05"/><circle cx="622.5" cy="391.1" r="4.05"/><circle cx="628.0" cy="391.1" r="4.05"/><circle cx="630.0" cy="391.1" r="4.05"/><circle cx="632.0" cy="391.1" r="4.05"/><circle cx="641.2" cy="391.1" r="4.05"/><circle cx="667.0" cy="396.7" r="4.05"/><circle cx="669.0" cy="396.7" r="4.05"/><circle cx="672.0" cy="396.7" r="4.05"/><circle cx="673.8" cy="396.7" r="4.05"/><circle cx="597.5" cy="402.2" r="4.05"/><circle cx="643.8" cy="402.2" r="4.05"/><circle cx="680.0" cy="402.2" r="4.05"/><circle cx="598.0" cy="407.8" r="4.05"/><circle cx="622.0" cy="407.8" r="4.05"/><circle cx="630.6" cy="407.8" r="4.05"/><circle cx="644.4" cy="407.8" r="4.05"/><circle cx="649.4" cy="407.8" r="4.05"/><circle cx="653.8" cy="407.8" r="4.05"/><circle cx="655.0" cy="407.8" r="4.05"/><circle cx="666.2" cy="407.8" r="4.05"/><circle cx="599.4" cy="413.3" r="4.05"/><circle cx="602.0" cy="413.3" r="4.05"/><circle cx="663.0" cy="413.3" r="4.05"/><circle cx="667.5" cy="413.3" r="4.05"/><circle cx="670.0" cy="413.3" r="4.05"/><circle cx="672.5" cy="413.3" r="4.05"/><circle cx="675.0" cy="413.3" r="4.05"/><circle cx="678.8" cy="413.3" r="4.05"/><circle cx="600.6" cy="418.9" r="4.05"/><circle cx="640.0" cy="418.9" r="4.05"/><circle cx="645.0" cy="418.9" r="4.05"/><circle cx="647.0" cy="418.9" r="4.05"/><circle cx="650.0" cy="418.9" r="4.05"/><circle cx="653.8" cy="418.9" r="4.05"/><circle cx="656.2" cy="418.9" r="4.05"/><circle cx="658.0" cy="418.9" r="4.05"/><circle cx="660.0" cy="418.9" r="4.05"/><circle cx="662.5" cy="418.9" r="4.05"/><circle cx="675.0" cy="418.9" r="4.05"/><circle cx="678.8" cy="418.9" r="4.05"/><circle cx="596.2" cy="424.4" r="4.05"/><circle cx="653.0" cy="424.4" r="4.05"/><circle cx="658.0" cy="424.4" r="4.05"/><circle cx="602.5" cy="430.0" r="4.05"/><circle cx="656.9" cy="430.0" r="4.05"/><circle cx="643.0" cy="435.6" r="4.05"/><circle cx="625.6" cy="452.2" r="4.05"/><circle cx="604.4" cy="463.3" r="4.05"/><circle cx="605.0" cy="468.9" r="4.05"/><circle cx="606.2" cy="468.9" r="4.05"/><circle cx="608.0" cy="474.4" r="4.05"/><circle cx="610.0" cy="474.4" r="4.05"/><circle cx="609.0" cy="480.0" r="4.05"/><circle cx="611.2" cy="480.0" r="4.05"/><circle cx="681.0" cy="402.2" r="4.05"/><circle cx="683.8" cy="402.2" r="4.05"/><circle cx="697.0" cy="402.2" r="4.05"/><circle cx="704.0" cy="402.2" r="4.05"/><circle cx="709.0" cy="402.2" r="4.05"/><circle cx="683.8" cy="396.7" r="4.05"/><circle cx="687.0" cy="396.7" r="4.05"/><circle cx="676.8" cy="413.3" r="4.05"/><circle cx="681.0" cy="413.3" r="4.05"/><circle cx="696.0" cy="413.3" r="4.05"/><circle cx="687.0" cy="407.8" r="4.05"/><circle cx="689.0" cy="396.7" r="4.05"/><circle cx="694.2" cy="396.7" r="4.05"/><circle cx="697.0" cy="396.7" r="4.05"/><circle cx="700.5" cy="396.7" r="4.05"/><circle cx="705.8" cy="396.7" r="4.05"/><circle cx="708.6" cy="396.7" r="4.05"/><circle cx="712.1" cy="396.7" r="4.05"/><circle cx="716.5" cy="396.7" r="4.05"/><circle cx="691.7" cy="391.1" r="4.05"/><circle cx="695.2" cy="391.1" r="4.05"/><circle cx="698.7" cy="391.1" r="4.05"/><circle cx="704.0" cy="391.1" r="4.05"/><circle cx="707.5" cy="391.1" r="4.05"/><circle cx="711.0" cy="391.1" r="4.05"/><circle cx="714.5" cy="391.1" r="4.05"/><circle cx="694.0" cy="385.6" r="4.05"/><circle cx="705.6" cy="385.6" r="4.05"/><circle cx="713.5" cy="385.6" r="4.05"/></g>
<rect x="80.50" y="280.50" width="640.00" height="200.00" fill="none" stroke="#000" stroke-width="1.1"/>
<g stroke="#000" stroke-width="1.1"><line x1="82.50" y1="480.50" x2="82.50" y2="485.70"/><line x1="145.50" y1="480.50" x2="145.50" y2="485.70"/><line x1="208.50" y1="480.50" x2="208.50" y2="485.70"/><line x1="271.50" y1="480.50" x2="271.50" y2="485.70"/><line x1="334.50" y1="480.50" x2="334.50" y2="485.70"/><line x1="397.50" y1="480.50" x2="397.50" y2="485.70"/><line x1="460.50" y1="480.50" x2="460.50" y2="485.70"/><line x1="524.50" y1="480.50" x2="524.50" y2="485.70"/><line x1="587.50" y1="480.50" x2="587.50" y2="485.70"/><line x1="650.50" y1="480.50" x2="650.50" y2="485.70"/><line x1="713.50" y1="480.50" x2="713.50" y2="485.70"/></g><g font-size="13.89" text-anchor="middle"><text x="82.50" y="500.70">12 AM</text><text x="82.50" y="517.10">4 Nov</text><text x="145.60" y="500.70">6 AM</text><text x="208.70" y="500.70">12 PM</text><text x="271.80" y="500.70">6 PM</text><text x="334.90" y="500.70">12 AM</text><text x="334.90" y="517.10">5 Nov</text><text x="398.00" y="500.70">6 AM</text><text x="461.10" y="500.70">12 PM</text><text x="524.20" y="500.70">6 PM</text><text x="587.30" y="500.70">12 AM</text><text x="587.30" y="517.10">6 Nov</text><text x="650.40" y="500.70">6 AM</text><text x="713.50" y="500.70">12 PM</text></g>
<g stroke="#000" stroke-width="1.1"><line x1="75.60" y1="280.50" x2="80.50" y2="280.50"/><line x1="75.60" y1="305.50" x2="80.50" y2="305.50"/><line x1="75.60" y1="330.50" x2="80.50" y2="330.50"/><line x1="75.60" y1="355.50" x2="80.50" y2="355.50"/><line x1="75.60" y1="380.50" x2="80.50" y2="380.50"/><line x1="75.60" y1="405.50" x2="80.50" y2="405.50"/><line x1="75.60" y1="430.50" x2="80.50" y2="430.50"/><line x1="75.60" y1="455.50" x2="80.50" y2="455.50"/><line x1="75.60" y1="480.50" x2="80.50" y2="480.50"/></g><g font-size="13.89" text-anchor="end"><text x="70.80" y="285.80">N</text><text x="70.80" y="310.80">NW</text><text x="70.80" y="335.80">W</text><text x="70.80" y="360.80">SW</text><text x="70.80" y="385.80">S</text><text x="70.80" y="410.80">SE</text><text x="70.80" y="435.80">E</text><text x="70.80" y="460.80">NE</text><text x="70.80" y="485.80">N</text></g>
<g stroke="#000" stroke-width="1.1"><line x1="720.50" y1="280.50" x2="725.40" y2="280.50"/><line x1="720.50" y1="305.50" x2="725.40" y2="305.50"/><line x1="720.50" y1="330.50" x2="725.40" y2="330.50"/><line x1="720.50" y1="355.50" x2="725.40" y2="355.50"/><line x1="720.50" y1="380.50" x2="725.40" y2="380.50"/><line x1="720.50" y1="405.50" x2="725.40" y2="405.50"/><line x1="720.50" y1="430.50" x2="725.40" y2="430.50"/><line x1="720.50" y1="455.50" x2="725.40" y2="455.50"/><line x1="720.50" y1="480.50" x2="725.40" y2="480.50"/></g><g font-size="13.89" text-anchor="start"><text x="730.20" y="285.80">44.10</text><text x="730.20" y="310.80">38.59</text><text x="730.20" y="335.80">33.08</text><text x="730.20" y="360.80">27.56</text><text x="730.20" y="385.80">22.05</text><text x="730.20" y="410.80">16.54</text><text x="730.20" y="435.80">11.03</text><text x="730.20" y="460.80">5.51</text><text x="730.20" y="485.80">0.00</text></g>
<text font-size="13.89" text-anchor="middle" fill="#000" transform="translate(37.50,380.50) rotate(-90)" style="fill:#000">Wind Direction</text>
<text font-size="13.89" text-anchor="middle" fill="#000" transform="translate(785.60,381.40) rotate(-90)" style="fill:#000">Wind Speed [mph]</text>
<g clip-path="url(#c3)"><path d="M80.5,706.90 V697.00 L84.15,697.00 L85.00,698.20 L85.85,697.00 L87.65,697.00 L88.50,699.00 L89.35,697.00 L89.40,697.00 L90.25,698.20 L91.10,697.00 L94.65,697.00 L95.50,698.20 L96.35,697.00 L98.15,697.00 L99.00,699.00 L99.85,697.00 L99.90,697.00 L100.75,699.00 L101.60,697.00 L101.65,697.00 L102.50,698.20 L103.35,697.00 L103.40,697.00 L104.25,698.60 L105.10,697.00 L106.90,697.00 L107.75,698.20 L108.60,697.00 L108.65,697.00 L109.50,698.20 L110.35,697.00 L113.90,697.00 L114.75,698.60 L115.60,697.00 L115.65,697.00 L116.50,699.00 L117.35,697.00 L117.40,697.00 L118.25,698.20 L119.10,697.00 L124.40,697.00 L125.25,699.00 L126.10,697.00 L129.65,697.00 L130.50,698.20 L131.35,697.00 L134.90,697.00 L135.75,699.00 L136.60,697.00 L138.40,697.00 L139.25,698.20 L140.10,697.00 L140.15,697.00 L141.00,698.20 L141.85,697.00 L145.40,697.00 L146.25,698.20 L147.10,697.00 L148.90,697.00 L149.75,698.60 L150.60,697.00 L150.65,697.00 L151.50,699.00 L152.35,697.00 L152.40,697.00 L153.25,699.00 L154.10,697.00 L155.90,697.00 L156.75,699.00 L157.60,697.00 L162.90,697.00 L163.75,698.20 L164.60,697.00 L164.65,697.00 L165.50,699.00 L166.35,697.00 L169.90,697.00 L170.75,699.00 L171.60,697.00 L171.65,697.00 L172.50,698.60 L173.35,697.00 L173.40,697.00 L174.25,699.00 L175.10,697.00 L180.40,697.00 L181.25,698.20 L182.10,697.00 L185.65,697.00 L186.50,698.20 L187.35,697.00 L190.90,697.00 L191.75,698.20 L192.60,697.00 L194.40,697.00 L195.25,699.00 L196.10,697.00 L199.65,697.00 L200.50,698.60 L201.35,697.00 L203.15,697.00 L204.00,698.60 L204.85,697.00 L208.40,697.00 L209.25,698.60 L210.10,697.00 L211.90,697.00 L212.75,698.60 L213.60,697.00 L213.65,697.00 L214.50,698.20 L215.35,697.00 L220.65,697.00 L221.50,698.20 L222.35,697.00 L222.40,697.00 L223.25,699.00 L224.10,697.00 L225.90,697.00 L226.75,699.00 L227.60,697.00 L229.40,697.00 L230.25,698.60 L231.10,697.00 L236.40,697.00 L237.25,698.60 L238.10,697.00 L239.90,697.00 L240.75,699.00 L241.60,697.00 L241.65,697.00 L242.50,698.20 L243.35,697.00 L246.90,697.00 L247.75,698.60 L248.60,697.00 L248.65,697.00 L249.50,698.60 L250.35,697.00 L250.40,697.00 L251.25,698.60 L252.10,697.00 L253.90,697.00 L254.75,698.20 L255.60,697.00 L260.90,697.00 L261.75,698.20 L262.60,697.00 L266.15,697.00 L267.00,699.00 L267.85,697.00 L269.65,697.00 L270.50,698.60 L271.35,697.00 L276.65,697.00 L277.50,698.60 L278.35,697.00 L281.90,697.00 L282.75,698.60 L283.60,697.00 L287.15,697.00 L288.00,698.60 L288.85,697.00 L288.90,697.00 L289.75,698.20 L290.60,697.00 L292.40,697.00 L293.25,698.60 L294.10,697.00 L299.40,697.00 L300.25,699.00 L301.10,697.00 L301.15,697.00 L302.00,698.20 L302.85,697.00 L308.15,697.00 L309.00,699.00 L309.85,697.00 L311.65,697.00 L312.50,699.00 L313.35,697.00 L316.90,697.00 L317.75,699.00 L318.60,697.00 L320.40,697.00 L321.25,698.60 L322.10,697.00 L327.40,697.00 L328.25,698.60 L329.10,697.00 L334.40,697.00 L335.25,698.60 L336.10,697.00 L336.15,697.00 L337.00,698.60 L337.85,697.00 L339.65,697.00 L340.50,698.20 L341.35,697.00 L344.90,697.00 L345.75,698.20 L346.60,697.00 L348.40,697.00 L349.25,698.20 L350.10,697.00 L350.15,697.00 L351.00,698.60 L351.85,697.00 L351.90,697.00 L352.75,699.00 L353.60,697.00 L353.65,697.00 L354.50,698.60 L355.35,697.00 L357.15,697.00 L358.00,698.60 L358.85,697.00 L358.90,697.00 L359.75,698.20 L360.60,697.00 L362.40,697.00 L363.25,698.60 L364.10,697.00 L367.65,697.00 L368.50,698.60 L369.35,697.00 L369.40,697.00 L370.25,698.60 L371.10,697.00 L374.65,697.00 L375.50,698.60 L376.35,697.00 L381.65,697.00 L382.50,698.60 L383.35,697.00 L385.15,697.00 L386.00,699.00 L386.85,697.00 L388.65,697.00 L389.50,698.20 L390.35,697.00 L390.40,697.00 L391.25,698.20 L392.10,697.00 L392.15,697.00 L393.00,698.20 L393.85,697.00 L393.90,697.00 L394.75,699.00 L395.60,697.00 L395.65,697.00 L396.50,698.20 L397.35,697.00 L399.15,697.00 L400.00,699.00 L400.85,697.00 L400.90,697.00 L401.75,698.60 L402.60,697.00 L404.40,697.00 L405.25,698.20 L406.10,697.00 L406.15,697.00 L407.00,698.60 L407.85,697.00 L411.40,697.00 L412.25,698.60 L413.10,697.00 L416.65,697.00 L417.50,699.00 L418.35,697.00 L420.15,697.00 L421.00,698.20 L421.85,697.00 L427.15,697.00 L428.00,699.00 L428.85,697.00 L432.40,697.00 L433.25,699.00 L434.10,697.00 L439.40,697.00 L440.25,699.00 L441.10,697.00 L441.15,697.00 L442.00,698.60 L442.85,697.00 L448.15,697.00 L449.00,699.00 L449.85,697.00 L451.65,697.00 L452.50,698.60 L453.35,697.00 L455.15,697.00 L456.00,698.60 L456.85,697.00 L456.90,697.00 L457.75,698.60 L458.60,697.00 L463.90,697.00 L464.75,698.60 L465.60,697.00 L465.65,697.00 L466.50,698.20 L467.35,697.00 L467.40,697.00 L468.25,698.20 L469.10,697.00 L470.90,697.00 L471.75,698.20 L472.60,697.00 L472.65,697.00 L473.50,698.60 L474.35,697.00 L477.90,697.00 L478.75,698.20 L479.60,697.00 L479.65,697.00 L480.50,698.20 L481.35,697.00 L484.90,697.00 L485.75,698.20 L486.60,697.00 L490.15,697.00 L491.00,698.20 L491.85,697.00 L493.65,697.00 L494.50,699.00 L495.35,697.00 L495.40,697.00 L496.25,698.20 L497.10,697.00 L497.15,697.00 L498.00,699.00 L498.85,697.00 L500.65,697.00 L501.50,698.20 L502.35,697.00 L507.65,697.00 L508.50,698.60 L509.35,697.00 L511.15,697.00 L512.00,699.00 L512.85,697.00 L514.65,697.00 L515.50,698.60 L516.35,697.00 L516.40,697.00 L517.25,698.20 L518.10,697.00 L519.90,697.00 L520.75,698.60 L521.60,697.00 L523.40,697.00 L524.25,698.60 L525.10,697.00 L526.90,697.00 L527.75,698.20 L528.60,697.00 L528.65,697.00 L529.50,698.20 L530.35,697.00 L535.65,697.00 L536.50,698.60 L537.35,697.00 L542.65,697.00 L543.50,698.60 L544.35,697.00 L546.15,697.00 L547.00,699.00 L547.85,697.00 L547.90,697.00 L548.75,699.00 L549.60,697.00 L549.65,697.00 L550.50,698.20 L551.35,697.00 L554.90,697.00 L555.75,698.60 L556.60,697.00 L556.65,697.00 L557.50,699.00 L558.35,697.00 L561.90,697.00 L562.75,698.20 L563.60,697.00 L567.15,697.00 L568.00,698.60 L568.85,697.00 L574.15,697.00 L575.00,698.20 L575.85,697.00 L581.15,697.00 L582.00,698.60 L582.85,697.00 L586.40,697.00 L587.25,698.60 L588.10,697.00 L588.15,697.00 L589.00,698.60 L589.85,697.00 L589.90,697.00 L590.75,699.00 L591.60,697.00 L595.15,697.00 L596.00,699.00 L596.85,697.00 L598.65,697.00 L599.50,699.00 L600.35,697.00 L600.40,697.00 L601.25,699.00 L602.10,697.00 L602.15,697.00 L603.00,698.20 L603.85,697.00 L605.65,697.00 L606.50,699.00 L607.35,697.00 L607.40,697.00 L608.25,698.20 L609.10,697.00 L612.65,697.00 L613.50,698.60 L614.35,697.00 L616.15,697.00 L617.00,699.00 L617.85,697.00 L617.90,697.00 L618.75,698.20 L619.60,697.00 L621.40,697.00 L622.25,698.60 L623.10,697.00 L624.90,697.00 L625.75,698.20 L626.60,697.00 L631.90,697.00 L632.75,699.00 L633.60,697.00 L635.40,697.00 L636.25,698.60 L637.10,697.00 L642.40,697.00 L643.25,698.60 L644.10,697.00 L645.90,697.00 L646.75,698.20 L647.60,697.00 L647.65,697.00 L648.50,698.20 L649.35,697.00 L649.40,697.00 L650.25,698.60 L651.10,697.00 L651.15,697.00 L652.00,698.60 L652.85,697.00 L652.90,697.00 L653.75,698.60 L654.60,697.00 L658.15,697.00 L659.00,699.00 L659.85,697.00 L659.90,697.00 L660.75,698.60 L661.60,697.00 L666.90,697.00 L667.75,698.60 L668.60,697.00 L673.90,697.00 L674.75,698.20 L675.60,697.00 L680.90,697.00 L681.75,698.20 L682.60,697.00 L684.40,697.00 L685.25,699.00 L686.10,697.00 L686.15,697.00 L687.00,698.60 L687.85,697.00 L687.90,697.00 L688.75,698.60 L689.60,697.00 L694.90,697.00 L695.75,698.60 L696.60,697.00 L696.65,697.00 L697.50,699.00 L698.35,697.00 L700.15,697.00 L701.00,698.60 L701.85,697.00 L703.65,697.00 L704.50,699.00 L705.35,697.00 L705.40,697.00 L706.25,699.00 L707.10,697.00 L707.15,697.00 L708.00,698.20 L708.85,697.00 L708.90,697.00 L709.75,698.20 L710.60,697.00 L710.65,697.00 L711.50,699.00 L712.35,697.00 L714.15,697.00 L715.00,699.00 L715.85,697.00 L715.90,697.00 L716.75,699.00 L717.60,697.00 H720.5 V706.90 L710.85,706.90 L710.25,706.55 L709.65,706.90 L703.85,706.90 L703.25,706.55 L702.65,706.90 L698.60,706.90 L698.00,706.55 L697.40,706.90 L693.35,706.90 L692.75,706.55 L692.15,706.90 L689.85,706.90 L689.25,706.55 L688.65,706.90 L686.35,706.90 L685.75,706.55 L685.15,706.90 L682.85,706.90 L682.25,706.55 L681.65,706.90 L677.60,706.90 L677.00,706.55 L676.40,706.90 L668.85,706.90 L668.25,706.55 L667.65,706.90 L663.60,706.90 L663.00,706.55 L662.40,706.90 L658.35,706.90 L657.75,706.55 L657.15,706.90 L654.85,706.90 L654.25,706.55 L653.65,706.90 L647.85,706.90 L647.25,706.55 L646.65,706.90 L642.60,706.90 L642.00,706.55 L641.40,706.90 L635.60,706.90 L635.00,706.55 L634.40,706.90 L630.35,706.90 L629.75,706.55 L629.15,706.90 L623.35,706.90 L622.75,706.55 L622.15,706.90 L616.35,706.90 L615.75,706.55 L615.15,706.90 L607.60,706.90 L607.00,706.55 L606.40,706.90 L602.35,706.90 L601.75,706.55 L601.15,706.90 L598.85,706.90 L598.25,706.55 L597.65,706.90 L591.85,706.90 L591.25,706.55 L590.65,706.90 L583.10,706.90 L582.50,706.55 L581.90,706.90 L574.35,706.90 L573.75,706.55 L573.15,706.90 L569.10,706.90 L568.50,706.55 L567.90,706.90 L563.85,706.90 L563.25,706.55 L562.65,706.90 L560.35,706.90 L559.75,706.55 L559.15,706.90 L551.60,706.90 L551.00,706.55 L550.40,706.90 L546.35,706.90 L545.75,706.55 L545.15,706.90 L542.85,706.90 L542.25,706.55 L541.65,706.90 L537.60,706.90 L537.00,706.55 L536.40,706.90 L532.35,706.90 L531.75,706.55 L531.15,706.90 L527.10,706.90 L526.50,706.55 L525.90,706.90 L518.35,706.90 L517.75,706.55 L517.15,706.90 L514.85,706.90 L514.25,706.55 L513.65,706.90 L511.35,706.90 L510.75,706.55 L510.15,706.90 L504.35,706.90 L503.75,706.55 L503.15,706.90 L495.60,706.90 L495.00,706.55 L494.40,706.90 L492.10,706.90 L491.50,706.55 L490.90,706.90 L488.60,706.90 L488.00,706.55 L487.40,706.90 L483.35,706.90 L482.75,706.55 L482.15,706.90 L478.10,706.90 L477.50,706.55 L476.90,706.90 L471.10,706.90 L470.50,706.55 L469.90,706.90 L467.60,706.90 L467.00,706.55 L466.40,706.90 L464.10,706.90 L463.50,706.55 L462.90,706.90 L455.35,706.90 L454.75,706.55 L454.15,706.90 L451.85,706.90 L451.25,706.55 L450.65,706.90 L448.35,706.90 L447.75,706.55 L447.15,706.90 L439.60,706.90 L439.00,706.55 L438.40,706.90 L432.60,706.90 L432.00,706.55 L431.40,706.90 L427.35,706.90 L426.75,706.55 L426.15,706.90 L420.35,706.90 L419.75,706.55 L419.15,706.90 L411.60,706.90 L411.00,706.55 L410.40,706.90 L402.85,706.90 L402.25,706.55 L401.65,706.90 L397.60,706.90 L397.00,706.55 L396.40,706.90 L390.60,706.90 L390.00,706.55 L389.40,706.90 L385.35,706.90 L384.75,706.55 L384.15,706.90 L376.60,706.90 L376.00,706.55 L375.40,706.90 L371.35,706.90 L370.75,706.55 L370.15,706.90 L362.60,706.90 L362.00,706.55 L361.40,706.90 L359.10,706.90 L358.50,706.55 L357.90,706.90 L350.35,706.90 L349.75,706.55 L349.15,706.90 L341.60,706.90 L341.00,706.55 L340.40,706.90 L334.60,706.90 L334.00,706.55 L333.40,706.90 L331.10,706.90 L330.50,706.55 L329.90,706.90 L325.85,706.90 L325.25,706.55 L324.65,706.90 L317.10,706.90 L316.50,706.55 L315.90,706.90 L313.60,706.90 L313.00,706.55 L312.40,706.90 L308.35,706.90 L307.75,706.55 L307.15,706.90 L301.35,706.90 L300.75,706.55 L300.15,706.90 L297.85,706.90 L297.25,706.55 L296.65,706.90 L292.60,706.90 L292.00,706.55 L291.40,706.90 L285.60,706.90 L285.00,706.55 L284.40,706.90 L280.35,706.90 L279.75,706.55 L279.15,706.90 L273.35,706.90 L272.75,706.55 L272.15,706.90 L268.10,706.90 L267.50,706.55 L266.90,706.90 L259.35,706.90 L258.75,706.55 L258.15,706.90 L254.10,706.90 L253.50,706.55 L252.90,706.90 L250.60,706.90 L250.00,706.55 L249.40,706.90 L241.85,706.90 L241.25,706.55 L240.65,706.90 L233.10,706.90 L232.50,706.55 L231.90,706.90 L227.85,706.90 L227.25,706.55 L226.65,706.90 L222.60,706.90 L222.00,706.55 L221.40,706.90 L217.35,706.90 L216.75,706.55 L216.15,706.90 L208.60,706.90 L208.00,706.55 L207.40,706.90 L199.85,706.90 L199.25,706.55 L198.65,706.90 L192.85,706.90 L192.25,706.55 L191.65,706.90 L184.10,706.90 L183.50,706.55 L182.90,706.90 L178.85,706.90 L178.25,706.55 L177.65,706.90 L171.85,706.90 L171.25,706.55 L170.65,706.90 L164.85,706.90 L164.25,706.55 L163.65,706.90 L161.35,706.90 L160.75,706.55 L160.15,706.90 L154.35,706.90 L153.75,706.55 L153.15,706.90 L150.85,706.90 L150.25,706.55 L149.65,706.90 L143.85,706.90 L143.25,706.55 L142.65,706.90 L135.10,706.90 L134.50,706.55 L133.90,706.90 L126.35,706.90 L125.75,706.55 L125.15,706.90 L122.85,706.90 L122.25,706.55 L121.65,706.90 L114.10,706.90 L113.50,706.55 L112.90,706.90 L107.10,706.90 L106.50,706.55 L105.90,706.90 L100.10,706.90 L99.50,706.55 L98.90,706.90 L96.60,706.90 L96.00,706.55 L95.40,706.90 L93.10,706.90 L92.50,706.55 L91.90,706.90 L87.85,706.90 L87.25,706.55 L86.65,706.90 L84.35,706.90 L83.75,706.55 L83.15,706.90 Z" fill="#0000ff"/></g>
<g stroke="#b0b0b0" stroke-width="1.1" fill="none"><line x1="82.50" y1="520.50" x2="82.50" y2="720.50"/><line x1="145.50" y1="520.50" x2="145.50" y2="720.50"/><line x1="208.50" y1="520.50" x2="208.50" y2="720.50"/><line x1="271.50" y1="520.50" x2="271.50" y2="720.50"/><line x1="334.50" y1="520.50" x2="334.50" y2="720.50"/><line x1="397.50" y1="520.50" x2="397.50" y2="720.50"/><line x1="460.50" y1="520.50" x2="460.50" y2="720.50"/><line x1="524.50" y1="520.50" x2="524.50" y2="720.50"/><line x1="587.50" y1="520.50" x2="587.50" y2="720.50"/><line x1="650.50" y1="520.50" x2="650.50" y2="720.50"/><line x1="713.50" y1="520.50" x2="713.50" y2="720.50"/><line x1="80.50" y1="520.50" x2="720.50" y2="520.50"/><line x1="80.50" y1="545.50" x2="720.50" y2="545.50"/><line x1="80.50" y1="570.50" x2="720.50" y2="570.50"/><line x1="80.50" y1="595.50" x2="720.50" y2="595.50"/><line x1="80.50" y1="620.50" x2="720.50" y2="620.50"/><line x1="80.50" y1="645.50" x2="720.50" y2="645.50"/><line x1="80.50" y1="670.50" x2="720.50" y2="670.50"/><line x1="80.50" y1="695.50" x2="720.50" y2="695.50"/><line x1="80.50" y1="720.50" x2="720.50" y2="720.50"/></g>
<rect x="80.50" y="520.50" width="640.00" height="200.00" fill="none" stroke="#000" stroke-width="1.1"/>
<g stroke="#000" stroke-width="1.1"><line x1="82.50" y1="720.50" x2="82.50" y2="725.70"/><line x1="145.50" y1="720.50" x2="145.50" y2="725.70"/><line x1="208.50" y1="720.50" x2="208.50" y2="725.70"/><line x1="271.50" y1="720.50" x2="271.50" y2="725.70"/><line x1="334.50" y1="720.50" x2="334.50" y2="725.70"/><line x1="397.50" y1="720.50" x2="397.50" y2="725.70"/><line x1="460.50" y1="720.50" x2="460.50" y2="725.70"/><line x1="524.50" y1="720.50" x2="524.50" y2="725.70"/><line x1="587.50" y1="720.50" x2="587.50" y2="725.70"/><line x1="650.50" y1="720.50" x2="650.50" y2="725.70"/><line x1="713.50" y1="720.50" x2="713.50" y2="725.70"/></g><g font-size="13.89" text-anchor="middle"><text x="82.50" y="740.70">12 AM</text><text x="82.50" y="757.10">4 Nov</text><text x="145.60" y="740.70">6 AM</text><text x="208.70" y="740.70">12 PM</text><text x="271.80" y="740.70">6 PM</text><text x="334.90" y="740.70">12 AM</text><text x="334.90" y="757.10">5 Nov</text><text x="398.00" y="740.70">6 AM</text><text x="461.10" y="740.70">12 PM</text><text x="524.20" y="740.70">6 PM</text><text x="587.30" y="740.70">12 AM</text><text x="587.30" y="757.10">6 Nov</text><text x="650.40" y="740.70">6 AM</text><text x="713.50" y="740.70">12 PM</text></g>
<g stroke="#000" stroke-width="1.1"><line x1="75.60" y1="520.50" x2="80.50" y2="520.50"/><line x1="75.60" y1="545.50" x2="80.50" y2="545.50"/><line x1="75.60" y1="570.50" x2="80.50" y2="570.50"/><line x1="75.60" y1="595.50" x2="80.50" y2="595.50"/><line x1="75.60" y1="620.50" x2="80.50" y2="620.50"/><line x1="75.60" y1="645.50" x2="80.50" y2="645.50"/><line x1="75.60" y1="670.50" x2="80.50" y2="670.50"/><line x1="75.60" y1="695.50" x2="80.50" y2="695.50"/><line x1="75.60" y1="720.50" x2="80.50" y2="720.50"/></g><g font-size="13.89" text-anchor="end"><text x="70.80" y="525.80">14.00</text><text x="70.80" y="550.80">12.25</text><text x="70.80" y="575.80">10.50</text><text x="70.80" y="600.80">8.75</text><text x="70.80" y="625.80">7.00</text><text x="70.80" y="650.80">5.25</text><text x="70.80" y="675.80">3.50</text><text x="70.80" y="700.80">1.75</text><text x="70.80" y="725.80">0.00</text></g>
<g stroke="#000" stroke-width="1.1"><line x1="720.50" y1="520.50" x2="725.40" y2="520.50"/><line x1="720.50" y1="545.50" x2="725.40" y2="545.50"/><line x1="720.50" y1="570.50" x2="725.40" y2="570.50"/><line x1="720.50" y1="595.50" x2="725.40" y2="595.50"/><line x1="720.50" y1="620.50" x2="725.40" y2="620.50"/><line x1="720.50" y1="645.50" x2="725.40" y2="645.50"/><line x1="720.50" y1="670.50" x2="725.40" y2="670.50"/><line x1="720.50" y1="695.50" x2="725.40" y2="695.50"/><line x1="720.50" y1="720.50" x2="725.40" y2="720.50"/></g><g font-size="13.89" text-anchor="start"><text x="730.20" y="525.80">0.05500</text><text x="730.20" y="550.80">0.04813</text><text x="730.20" y="575.80">0.04125</text><text x="730.20" y="600.80">0.03438</text><text x="730.20" y="625.80">0.02750</text><text x="730.20" y="650.80">0.02063</text><text x="730.20" y="675.80">0.01375</text><text x="730.20" y="700.80">0.00688</text><text x="730.20" y="725.80">0.00000</text></g>
<text font-size="13.89" text-anchor="middle" fill="#000" transform="translate(20.70,621.00) rotate(-90)" style="fill:#000">Visibility [miles]</text>
<text font-size="13.89" text-anchor="middle" fill="#008000" transform="translate(802.80,621.20) rotate(-90)" style="fill:#008000">Overcast Ceiling [k ft]</text>
<text x="400" y="775.5" font-size="13.89" text-anchor="middle">Plot Time Zone: America/Chicago</text>
<text x="8" y="793.8" font-size="11.11">Generated at 6 Nov 2025 12:58 PM CST in 0.66s</text>
<text x="792" y="793.8" font-size="11.11" text-anchor="end">IEM Autoplot App #43</text>
</g>
</svg></body></html>
